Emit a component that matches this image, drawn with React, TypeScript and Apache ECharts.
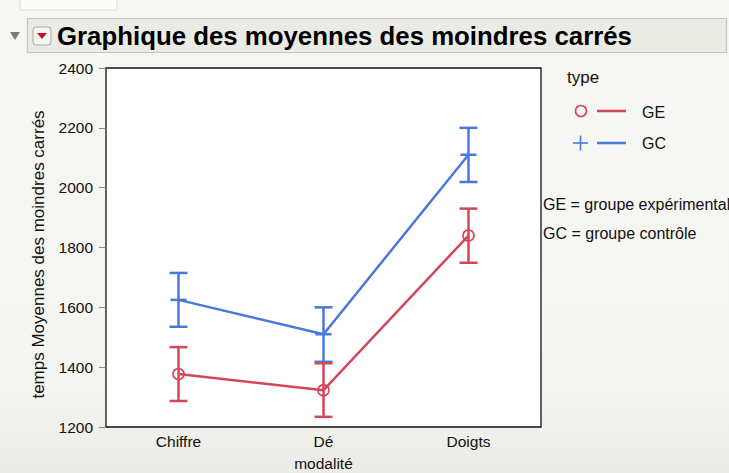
import React, { useEffect, useRef } from "react";
import * as echarts from "echarts";

const categories = ["Chiffre", "Dé", "Doigts"];
const geMeans = [1377, 1323, 1840];
const geLow = [1287, 1234, 1749];
const geHigh = [1467, 1413, 1930];
const gcMeans = [1625, 1510, 2110];
const gcLow = [1535, 1418, 2019];
const gcHigh = [1715, 1600, 2200];
const yTicks = { min: 1200, max: 2400, interval: 200 };

const RED = "#d4475a";
const BLUE = "#4a78dc";
const FONT = "Liberation Sans, Arial, Helvetica, sans-serif";

function errorSeries(name: string, color: string, low: number[], high: number[], means: number[], cross: boolean) {
  return {
    name: name + "-err",
    type: "custom",
    z: 3,
    data: categories.map((_, i) => [i, low[i], high[i], means[i]]),
    encode: { x: 0, y: [1, 2] },
    renderItem: (params: any, api: any) => {
      const i = api.value(0);
      const lo = api.coord([i, api.value(1)]);
      const hi = api.coord([i, api.value(2)]);
      const mid = api.coord([i, api.value(3)]);
      const cap = 9;
      const style = { stroke: color, lineWidth: 2.5, fill: null };
      const children: any[] = [
        { type: "line", shape: { x1: lo[0], y1: lo[1], x2: hi[0], y2: hi[1] }, style },
        { type: "line", shape: { x1: lo[0] - cap, y1: lo[1], x2: lo[0] + cap, y2: lo[1] }, style },
        { type: "line", shape: { x1: hi[0] - cap, y1: hi[1], x2: hi[0] + cap, y2: hi[1] }, style },
      ];
      if (cross) {
        children.push({ type: "line", shape: { x1: mid[0] - 8, y1: mid[1], x2: mid[0] + 8, y2: mid[1] }, style });
      } else {
        children.push({ type: "circle", shape: { cx: mid[0], cy: mid[1], r: 5.5 }, style: { stroke: color, lineWidth: 1.6, fill: "rgba(0,0,0,0)" } });
      }
      return { type: "group", children };
    },
  };
}

export default function App() {
  const ref = useRef<HTMLDivElement>(null);
  useEffect(() => {
    document.body.style.margin = "0";
    const chart = echarts.init(ref.current!, null, { renderer: "svg" });
    chart.setOption({
      animation: false,
      backgroundColor: "transparent",
      textStyle: { fontFamily: FONT },
      grid: { left: 106, right: 188, top: 68, bottom: 46, outerBoundsMode: "none", containLabel: false, show: true, backgroundColor: "#ffffff", borderColor: "#111", borderWidth: 1.3 },
      xAxis: {
        type: "category",
        data: categories,
        boundaryGap: true,
        axisLine: { show: false },
        axisTick: { show: false },
        axisLabel: { color: "#111", fontSize: 15.5, margin: 6, fontFamily: FONT },
        name: "modalité",
        nameLocation: "middle",
        nameGap: 28,
        nameTextStyle: { color: "#111", fontSize: 15.5, fontFamily: FONT },
      },
      yAxis: {
        type: "value",
        min: yTicks.min,
        max: yTicks.max,
        interval: yTicks.interval,
        splitLine: { show: false },
        axisLine: { show: false },
        axisTick: { show: true, length: 7, lineStyle: { color: "#888" } },
        axisLabel: { color: "#111", fontSize: 15.5, margin: 13, fontFamily: FONT, formatter: (v: number) => String(v) },
        name: "temps Moyennes des moindres carrés",
        nameLocation: "middle",
        nameGap: 59,
        nameRotate: 90,
        nameTextStyle: { color: "#111", fontSize: 17, fontFamily: FONT, padding: [0, 14, 0, 0] },
      },
      series: [
        { name: "GC", type: "line", data: gcMeans, symbol: "none", lineStyle: { color: BLUE, width: 2.5 }, z: 2 },
        { name: "GE", type: "line", data: geMeans, symbol: "none", lineStyle: { color: RED, width: 2.5 }, z: 2 },
        errorSeries("GC", BLUE, gcLow, gcHigh, gcMeans, true),
        errorSeries("GE", RED, geLow, geHigh, geMeans, false),
      ],
      graphic: [
        { type: "rect", shape: { x: 20, y: -1, width: 97, height: 11 }, style: { fill: "#fbfbf9", stroke: "#dcdcd8", lineWidth: 1 } },
        { type: "rect", shape: { x: 27.5, y: 18.5, width: 699, height: 34 }, style: { fill: "#ebebe6", stroke: "#c6c6c1", lineWidth: 1.2 } },
        { type: "polygon", shape: { points: [[10, 32], [20, 32], [15, 40]] }, style: { fill: "#7a7a7a" } },
        { type: "rect", shape: { x: 33, y: 27, width: 18, height: 18, r: 3 }, style: { fill: "#f4f4f2", stroke: "#a8a8a4", lineWidth: 1 } },
        { type: "polygon", shape: { points: [[37, 33], [47, 33], [42, 39]] }, style: { fill: "#c4121f" } },
        { type: "text", x: 57, y: 36, style: { text: "Graphique des moyennes des moindres carrés", font: "bold 25.8px " + FONT, fill: "#000", verticalAlign: "middle" } },
        { type: "text", x: 567, y: 77, style: { text: "type", font: "17px " + FONT, fill: "#111", verticalAlign: "middle" } },
        { type: "circle", shape: { cx: 581, cy: 111, r: 5.5 }, style: { stroke: RED, lineWidth: 1.6, fill: "rgba(0,0,0,0)" } },
        { type: "line", shape: { x1: 597, y1: 111, x2: 626, y2: 111 }, style: { stroke: RED, lineWidth: 2.5 } },
        { type: "text", x: 642, y: 112, style: { text: "GE", font: "16px " + FONT, fill: "#111", verticalAlign: "middle" } },
        { type: "line", shape: { x1: 573, y1: 143, x2: 588, y2: 143 }, style: { stroke: BLUE, lineWidth: 1.6 } },
        { type: "line", shape: { x1: 580.5, y1: 135.5, x2: 580.5, y2: 150.5 }, style: { stroke: BLUE, lineWidth: 1.6 } },
        { type: "line", shape: { x1: 597, y1: 143, x2: 626, y2: 143 }, style: { stroke: BLUE, lineWidth: 2.5 } },
        { type: "text", x: 642, y: 143, style: { text: "GC", font: "16px " + FONT, fill: "#111", verticalAlign: "middle" } },
        { type: "text", x: 543, y: 204, style: { text: "GE = groupe expérimental", font: "16px " + FONT, fill: "#111", verticalAlign: "middle" } },
        { type: "text", x: 543, y: 233, style: { text: "GC = groupe contrôle", font: "16px " + FONT, fill: "#111", verticalAlign: "middle" } },
      ],
    });
    return () => chart.dispose();
  }, []);
  return (
    <div
      ref={ref}
      style={{ width: 729, height: 473, background: "linear-gradient(#f6f6f3 0%, #f5f5f2 80%, #ebebe7 100%)" }}
    />
  );
}
